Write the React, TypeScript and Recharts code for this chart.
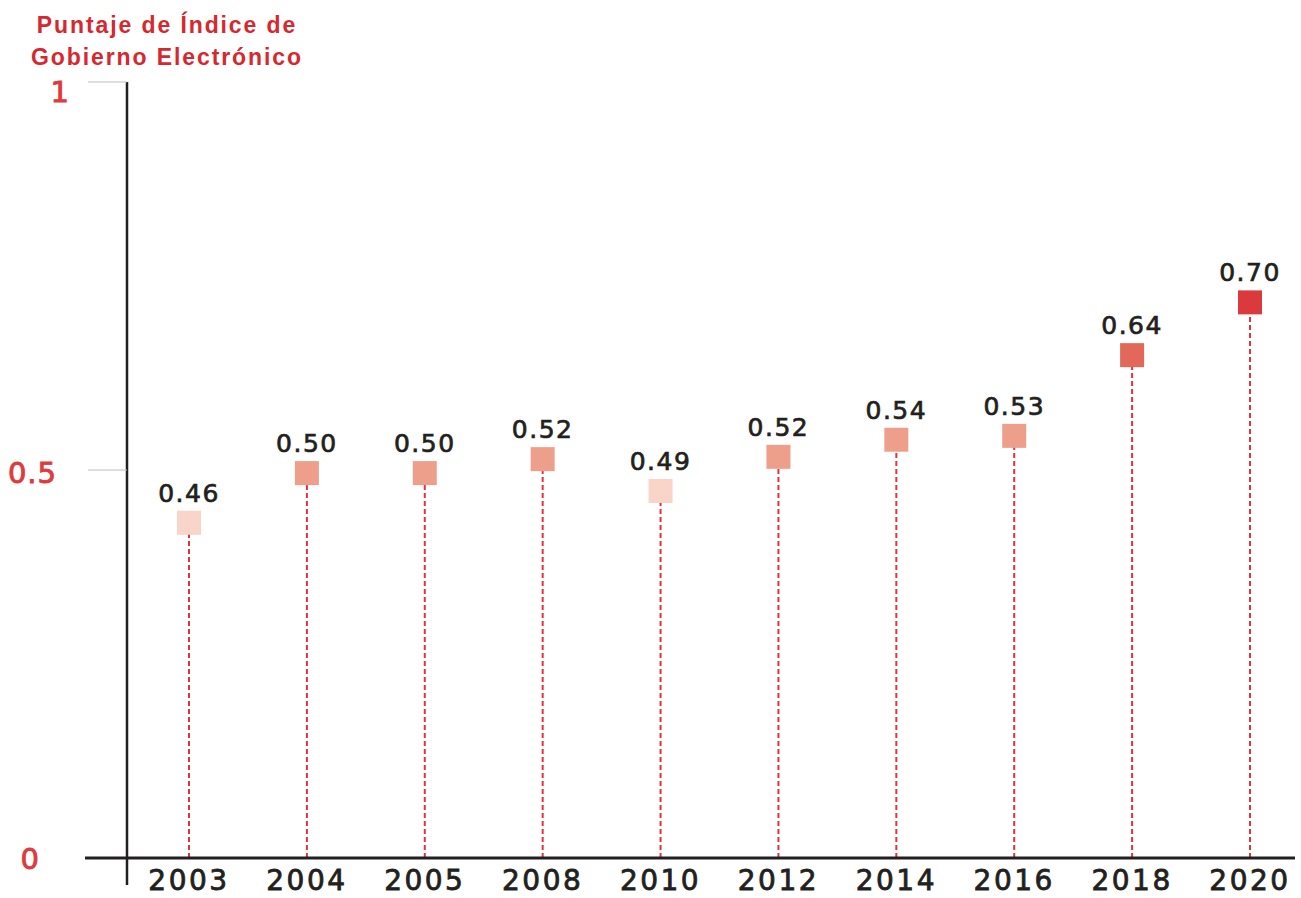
import React from 'react';
import { ComposedChart, Scatter, XAxis, YAxis, ErrorBar, Cell } from 'recharts';

const years = ['2003', '2004', '2005', '2008', '2010', '2012', '2014', '2016', '2018', '2020'];
const scores = [0.432, 0.496, 0.496, 0.514, 0.473, 0.517, 0.539, 0.544, 0.648, 0.716];
const scoreLabels = ['0.46', '0.50', '0.50', '0.52', '0.49', '0.52', '0.54', '0.53', '0.64', '0.70'];
const pointColors = ['#F8D4C9', '#EE9F8C', '#EE9F8C', '#EE9F8C', '#F8D4C9', '#EE9F8C', '#EE9F8C', '#EE9F8C', '#E2685A', '#DA3A3B'];
const yTicks = [0, 0.5, 1];
const yTickLabels: Record<string, string> = { '0': '0', '0.5': '0.5', '1': '1' };

const data = years.map((year, i) => ({
  year,
  score: scores[i],
  label: scoreLabels[i],
  stem: [scores[i], 0],
}));

const FONT = '"DejaVu Sans", sans-serif';
const RED = '#DF3A3C';
const INK = '#231F20';

const YTick = (props: any) => {
  const { x, y, payload } = props;
  const v = payload.value;
  const key = String(v);
  const anchorX: Record<string, number> = { '0': -87, '0.5': -70, '1': -57 };
  const dy: Record<string, number> = { '0': 11, '0.5': 13, '1': 20 };
  return (
    <g>
      {v === 0 ? (
        <g>
          <line x1={x - 42} y1={y} x2={x} y2={y} stroke={INK} strokeWidth={3} />
          <line x1={x} y1={y} x2={x} y2={y + 27} stroke={INK} strokeWidth={2.5} />
        </g>
      ) : (
        <line x1={x - 39} y1={y} x2={x} y2={y} stroke="#BDBDBD" strokeWidth={1} />
      )}
      <text
        x={x + anchorX[key]}
        y={y + dy[key]}
        textAnchor="end"
        fill={RED}
        stroke={RED}
        strokeWidth={0.9}
        fontFamily={FONT}
        fontSize={29}
        letterSpacing={1}
      >
        {yTickLabels[key]}
      </text>
    </g>
  );
};

const XTick = (props: any) => {
  const { x, y, payload } = props;
  return (
    <text
      x={x}
      y={y + 32}
      textAnchor="middle"
      fill={INK}
      stroke={INK}
      strokeWidth={0.8}
      fontFamily={FONT}
      fontSize={28}
      letterSpacing={2.5}
    >
      {payload.value}
    </text>
  );
};

const Square = (props: any) => {
  const { cx, cy, fill, payload } = props;
  if (cx == null || cy == null) return null;
  return (
    <g>
      <rect x={cx - 12} y={cy - 12} width={24} height={24} fill={fill} />
      <text
        x={cx}
        y={cy - 21}
        textAnchor="middle"
        fill={INK}
        stroke={INK}
        strokeWidth={0.7}
        fontFamily={FONT}
        fontSize={25}
        letterSpacing={1.5}
      >
        {payload.label}
      </text>
    </g>
  );
};

export default function App() {
  return (
    <div style={{ position: 'absolute', left: 0, top: 0, width: 1301, height: 898, background: '#fff' }}>
      <div
        style={{
          position: 'absolute',
          left: 0,
          top: 9,
          width: 334,
          textAlign: 'center',
          fontFamily: '"Liberation Sans", Arial, sans-serif',
          fontWeight: 'bold',
          fontSize: 23,
          lineHeight: '32px',
          letterSpacing: 1.9,
          color: '#D6282F',
        }}
      >
        Puntaje de Índice de
        <br />
        Gobierno Electrónico
      </div>
      <ComposedChart
        width={1301}
        height={898}
        data={data}
        margin={{ top: 82, right: 6, bottom: 0, left: 0 }}
        style={{ position: 'absolute', left: 0, top: 0 }}
      >
        <XAxis
          dataKey="year"
          type="category"
          padding={{ left: 62, right: 45 }}
          height={40}
          axisLine={{ stroke: INK, strokeWidth: 3 }}
          tickLine={false}
          tickSize={0}
          tickMargin={0}
          tick={<XTick />}
          interval={0}
        />
        <YAxis
          type="number"
          domain={[0, 1]}
          ticks={yTicks}
          width={127}
          axisLine={{ stroke: INK, strokeWidth: 2.5 }}
          tickLine={false}
          tickSize={0}
          tickMargin={0}
          tick={<YTick />}
        />
        <Scatter dataKey="score" isAnimationActive={false} shape={<Square />}>
          <ErrorBar
            dataKey="stem"
            direction="y"
            width={0}
            stroke="#E3323B"
            strokeWidth={2}
            strokeDasharray="5 3"
            isAnimationActive={false}
          />
          {data.map((d, i) => (
            <Cell key={d.year} fill={pointColors[i]} />
          ))}
        </Scatter>
      </ComposedChart>
    </div>
  );
}
